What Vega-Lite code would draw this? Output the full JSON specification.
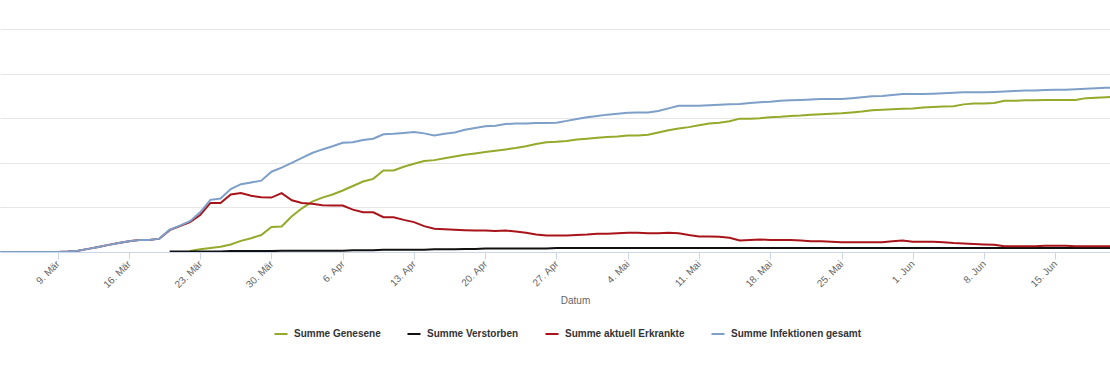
{
  "$schema": "https://vega.github.io/schema/vega-lite/v6.json",
  "width": 1110,
  "height": 223,
  "autosize": {"type": "none"},
  "padding": {"left": 0, "top": 29, "right": 0, "bottom": 118},
  "background": "white",
  "config": {
    "view": {"stroke": null},
    "font": "Liberation Sans",
    "locale": {
      "time": {
        "dateTime": "%A, der %e. %B %Y, %X",
        "date": "%d.%m.%Y",
        "time": "%H:%M:%S",
        "periods": ["AM", "PM"],
        "days": ["Sonntag", "Montag", "Dienstag", "Mittwoch", "Donnerstag", "Freitag", "Samstag"],
        "shortDays": ["So", "Mo", "Di", "Mi", "Do", "Fr", "Sa"],
        "months": ["Januar", "Februar", "März", "April", "Mai", "Juni", "Juli", "August", "September", "Oktober", "November", "Dezember"],
        "shortMonths": ["Jan", "Feb", "Mär", "Apr", "Mai", "Jun", "Jul", "Aug", "Sep", "Okt", "Nov", "Dez"]
      }
    }
  },
  "data": {
    "values": [
      {"d": "2020-03-02", "Summe aktuell Erkrankte": 0, "Summe Infektionen gesamt": 0},
      {"d": "2020-03-03", "Summe aktuell Erkrankte": 0, "Summe Infektionen gesamt": 0},
      {"d": "2020-03-04", "Summe aktuell Erkrankte": 0, "Summe Infektionen gesamt": 0},
      {"d": "2020-03-05", "Summe aktuell Erkrankte": 0, "Summe Infektionen gesamt": 0},
      {"d": "2020-03-06", "Summe aktuell Erkrankte": 0, "Summe Infektionen gesamt": 0},
      {"d": "2020-03-07", "Summe aktuell Erkrankte": 0, "Summe Infektionen gesamt": 0},
      {"d": "2020-03-08", "Summe aktuell Erkrankte": 0, "Summe Infektionen gesamt": 0},
      {"d": "2020-03-09", "Summe aktuell Erkrankte": 0, "Summe Infektionen gesamt": 0},
      {"d": "2020-03-10", "Summe aktuell Erkrankte": 1, "Summe Infektionen gesamt": 1},
      {"d": "2020-03-11", "Summe aktuell Erkrankte": 3, "Summe Infektionen gesamt": 3},
      {"d": "2020-03-12", "Summe aktuell Erkrankte": 7, "Summe Infektionen gesamt": 7},
      {"d": "2020-03-13", "Summe aktuell Erkrankte": 11, "Summe Infektionen gesamt": 11},
      {"d": "2020-03-14", "Summe aktuell Erkrankte": 16, "Summe Infektionen gesamt": 16},
      {"d": "2020-03-15", "Summe aktuell Erkrankte": 20, "Summe Infektionen gesamt": 20},
      {"d": "2020-03-16", "Summe aktuell Erkrankte": 24, "Summe Infektionen gesamt": 24},
      {"d": "2020-03-17", "Summe aktuell Erkrankte": 27, "Summe Infektionen gesamt": 27},
      {"d": "2020-03-18", "Summe aktuell Erkrankte": 27, "Summe Infektionen gesamt": 27},
      {"d": "2020-03-19", "Summe aktuell Erkrankte": 30, "Summe Infektionen gesamt": 30},
      {"d": "2020-03-20", "Summe Verstorben": 1, "Summe aktuell Erkrankte": 49, "Summe Infektionen gesamt": 50},
      {"d": "2020-03-21", "Summe Verstorben": 1, "Summe aktuell Erkrankte": 58, "Summe Infektionen gesamt": 59},
      {"d": "2020-03-22", "Summe Genesene": 2, "Summe Verstorben": 1, "Summe aktuell Erkrankte": 67, "Summe Infektionen gesamt": 69},
      {"d": "2020-03-23", "Summe Genesene": 6, "Summe Verstorben": 1, "Summe aktuell Erkrankte": 83, "Summe Infektionen gesamt": 89},
      {"d": "2020-03-24", "Summe Genesene": 9, "Summe Verstorben": 1, "Summe aktuell Erkrankte": 110, "Summe Infektionen gesamt": 117},
      {"d": "2020-03-25", "Summe Genesene": 12, "Summe Verstorben": 1, "Summe aktuell Erkrankte": 110, "Summe Infektionen gesamt": 120},
      {"d": "2020-03-26", "Summe Genesene": 17, "Summe Verstorben": 2, "Summe aktuell Erkrankte": 129, "Summe Infektionen gesamt": 141},
      {"d": "2020-03-27", "Summe Genesene": 25, "Summe Verstorben": 2, "Summe aktuell Erkrankte": 132, "Summe Infektionen gesamt": 152},
      {"d": "2020-03-28", "Summe Genesene": 31, "Summe Verstorben": 2, "Summe aktuell Erkrankte": 126, "Summe Infektionen gesamt": 156},
      {"d": "2020-03-29", "Summe Genesene": 38, "Summe Verstorben": 2, "Summe aktuell Erkrankte": 123, "Summe Infektionen gesamt": 160},
      {"d": "2020-03-30", "Summe Genesene": 56, "Summe Verstorben": 2, "Summe aktuell Erkrankte": 122, "Summe Infektionen gesamt": 180},
      {"d": "2020-03-31", "Summe Genesene": 57, "Summe Verstorben": 3, "Summe aktuell Erkrankte": 132, "Summe Infektionen gesamt": 189},
      {"d": "2020-04-01", "Summe Genesene": 80, "Summe Verstorben": 3, "Summe aktuell Erkrankte": 116, "Summe Infektionen gesamt": 200},
      {"d": "2020-04-02", "Summe Genesene": 98, "Summe Verstorben": 3, "Summe aktuell Erkrankte": 110, "Summe Infektionen gesamt": 211},
      {"d": "2020-04-03", "Summe Genesene": 113, "Summe Verstorben": 3, "Summe aktuell Erkrankte": 108, "Summe Infektionen gesamt": 222},
      {"d": "2020-04-04", "Summe Genesene": 122, "Summe Verstorben": 3, "Summe aktuell Erkrankte": 105, "Summe Infektionen gesamt": 230},
      {"d": "2020-04-05", "Summe Genesene": 129, "Summe Verstorben": 3, "Summe aktuell Erkrankte": 104, "Summe Infektionen gesamt": 237},
      {"d": "2020-04-06", "Summe Genesene": 138, "Summe Verstorben": 3, "Summe aktuell Erkrankte": 104, "Summe Infektionen gesamt": 245},
      {"d": "2020-04-07", "Summe Genesene": 148, "Summe Verstorben": 4, "Summe aktuell Erkrankte": 95, "Summe Infektionen gesamt": 246},
      {"d": "2020-04-08", "Summe Genesene": 158, "Summe Verstorben": 4, "Summe aktuell Erkrankte": 89, "Summe Infektionen gesamt": 251},
      {"d": "2020-04-09", "Summe Genesene": 164, "Summe Verstorben": 4, "Summe aktuell Erkrankte": 89, "Summe Infektionen gesamt": 254},
      {"d": "2020-04-10", "Summe Genesene": 183, "Summe Verstorben": 5, "Summe aktuell Erkrankte": 78, "Summe Infektionen gesamt": 264},
      {"d": "2020-04-11", "Summe Genesene": 183, "Summe Verstorben": 5, "Summe aktuell Erkrankte": 78, "Summe Infektionen gesamt": 265},
      {"d": "2020-04-12", "Summe Genesene": 191, "Summe Verstorben": 5, "Summe aktuell Erkrankte": 72, "Summe Infektionen gesamt": 267},
      {"d": "2020-04-13", "Summe Genesene": 198, "Summe Verstorben": 5, "Summe aktuell Erkrankte": 67, "Summe Infektionen gesamt": 269},
      {"d": "2020-04-14", "Summe Genesene": 204, "Summe Verstorben": 5, "Summe aktuell Erkrankte": 58, "Summe Infektionen gesamt": 266},
      {"d": "2020-04-15", "Summe Genesene": 206, "Summe Verstorben": 6, "Summe aktuell Erkrankte": 52, "Summe Infektionen gesamt": 261},
      {"d": "2020-04-16", "Summe Genesene": 210, "Summe Verstorben": 6, "Summe aktuell Erkrankte": 51, "Summe Infektionen gesamt": 265},
      {"d": "2020-04-17", "Summe Genesene": 214, "Summe Verstorben": 6, "Summe aktuell Erkrankte": 50, "Summe Infektionen gesamt": 268},
      {"d": "2020-04-18", "Summe Genesene": 218, "Summe Verstorben": 7, "Summe aktuell Erkrankte": 49, "Summe Infektionen gesamt": 274},
      {"d": "2020-04-19", "Summe Genesene": 221, "Summe Verstorben": 7, "Summe aktuell Erkrankte": 48, "Summe Infektionen gesamt": 278},
      {"d": "2020-04-20", "Summe Genesene": 224, "Summe Verstorben": 8, "Summe aktuell Erkrankte": 48, "Summe Infektionen gesamt": 282},
      {"d": "2020-04-21", "Summe Genesene": 227, "Summe Verstorben": 8, "Summe aktuell Erkrankte": 47, "Summe Infektionen gesamt": 283},
      {"d": "2020-04-22", "Summe Genesene": 230, "Summe Verstorben": 8, "Summe aktuell Erkrankte": 48, "Summe Infektionen gesamt": 287},
      {"d": "2020-04-23", "Summe Genesene": 233, "Summe Verstorben": 8, "Summe aktuell Erkrankte": 46, "Summe Infektionen gesamt": 288},
      {"d": "2020-04-24", "Summe Genesene": 237, "Summe Verstorben": 8, "Summe aktuell Erkrankte": 43, "Summe Infektionen gesamt": 288},
      {"d": "2020-04-25", "Summe Genesene": 242, "Summe Verstorben": 8, "Summe aktuell Erkrankte": 39, "Summe Infektionen gesamt": 289},
      {"d": "2020-04-26", "Summe Genesene": 246, "Summe Verstorben": 8, "Summe aktuell Erkrankte": 37, "Summe Infektionen gesamt": 289},
      {"d": "2020-04-27", "Summe Genesene": 247, "Summe Verstorben": 9, "Summe aktuell Erkrankte": 37, "Summe Infektionen gesamt": 290},
      {"d": "2020-04-28", "Summe Genesene": 249, "Summe Verstorben": 9, "Summe aktuell Erkrankte": 37, "Summe Infektionen gesamt": 294},
      {"d": "2020-04-29", "Summe Genesene": 252, "Summe Verstorben": 9, "Summe aktuell Erkrankte": 38, "Summe Infektionen gesamt": 298},
      {"d": "2020-04-30", "Summe Genesene": 254, "Summe Verstorben": 9, "Summe aktuell Erkrankte": 39, "Summe Infektionen gesamt": 302},
      {"d": "2020-05-01", "Summe Genesene": 256, "Summe Verstorben": 9, "Summe aktuell Erkrankte": 41, "Summe Infektionen gesamt": 305},
      {"d": "2020-05-02", "Summe Genesene": 258, "Summe Verstorben": 9, "Summe aktuell Erkrankte": 41, "Summe Infektionen gesamt": 308},
      {"d": "2020-05-03", "Summe Genesene": 259, "Summe Verstorben": 9, "Summe aktuell Erkrankte": 42, "Summe Infektionen gesamt": 310},
      {"d": "2020-05-04", "Summe Genesene": 261, "Summe Verstorben": 9, "Summe aktuell Erkrankte": 43, "Summe Infektionen gesamt": 312},
      {"d": "2020-05-05", "Summe Genesene": 261, "Summe Verstorben": 9, "Summe aktuell Erkrankte": 43, "Summe Infektionen gesamt": 313},
      {"d": "2020-05-06", "Summe Genesene": 263, "Summe Verstorben": 9, "Summe aktuell Erkrankte": 42, "Summe Infektionen gesamt": 313},
      {"d": "2020-05-07", "Summe Genesene": 268, "Summe Verstorben": 9, "Summe aktuell Erkrankte": 42, "Summe Infektionen gesamt": 316},
      {"d": "2020-05-08", "Summe Genesene": 273, "Summe Verstorben": 9, "Summe aktuell Erkrankte": 43, "Summe Infektionen gesamt": 322},
      {"d": "2020-05-09", "Summe Genesene": 277, "Summe Verstorben": 9, "Summe aktuell Erkrankte": 42, "Summe Infektionen gesamt": 328},
      {"d": "2020-05-10", "Summe Genesene": 280, "Summe Verstorben": 9, "Summe aktuell Erkrankte": 38, "Summe Infektionen gesamt": 328},
      {"d": "2020-05-11", "Summe Genesene": 284, "Summe Verstorben": 9, "Summe aktuell Erkrankte": 35, "Summe Infektionen gesamt": 328},
      {"d": "2020-05-12", "Summe Genesene": 288, "Summe Verstorben": 9, "Summe aktuell Erkrankte": 35, "Summe Infektionen gesamt": 329},
      {"d": "2020-05-13", "Summe Genesene": 290, "Summe Verstorben": 9, "Summe aktuell Erkrankte": 34, "Summe Infektionen gesamt": 330},
      {"d": "2020-05-14", "Summe Genesene": 293, "Summe Verstorben": 9, "Summe aktuell Erkrankte": 32, "Summe Infektionen gesamt": 331},
      {"d": "2020-05-15", "Summe Genesene": 299, "Summe Verstorben": 9, "Summe aktuell Erkrankte": 26, "Summe Infektionen gesamt": 332},
      {"d": "2020-05-16", "Summe Genesene": 299, "Summe Verstorben": 9, "Summe aktuell Erkrankte": 27, "Summe Infektionen gesamt": 334},
      {"d": "2020-05-17", "Summe Genesene": 300, "Summe Verstorben": 9, "Summe aktuell Erkrankte": 28, "Summe Infektionen gesamt": 336},
      {"d": "2020-05-18", "Summe Genesene": 302, "Summe Verstorben": 9, "Summe aktuell Erkrankte": 27, "Summe Infektionen gesamt": 337},
      {"d": "2020-05-19", "Summe Genesene": 303, "Summe Verstorben": 9, "Summe aktuell Erkrankte": 27, "Summe Infektionen gesamt": 339},
      {"d": "2020-05-20", "Summe Genesene": 305, "Summe Verstorben": 9, "Summe aktuell Erkrankte": 27, "Summe Infektionen gesamt": 340},
      {"d": "2020-05-21", "Summe Genesene": 306, "Summe Verstorben": 9, "Summe aktuell Erkrankte": 26, "Summe Infektionen gesamt": 341},
      {"d": "2020-05-22", "Summe Genesene": 308, "Summe Verstorben": 9, "Summe aktuell Erkrankte": 24, "Summe Infektionen gesamt": 342},
      {"d": "2020-05-23", "Summe Genesene": 309, "Summe Verstorben": 9, "Summe aktuell Erkrankte": 24, "Summe Infektionen gesamt": 343},
      {"d": "2020-05-24", "Summe Genesene": 310, "Summe Verstorben": 9, "Summe aktuell Erkrankte": 23, "Summe Infektionen gesamt": 343},
      {"d": "2020-05-25", "Summe Genesene": 311, "Summe Verstorben": 9, "Summe aktuell Erkrankte": 22, "Summe Infektionen gesamt": 343},
      {"d": "2020-05-26", "Summe Genesene": 313, "Summe Verstorben": 9, "Summe aktuell Erkrankte": 22, "Summe Infektionen gesamt": 345},
      {"d": "2020-05-27", "Summe Genesene": 315, "Summe Verstorben": 9, "Summe aktuell Erkrankte": 22, "Summe Infektionen gesamt": 347},
      {"d": "2020-05-28", "Summe Genesene": 318, "Summe Verstorben": 9, "Summe aktuell Erkrankte": 22, "Summe Infektionen gesamt": 349},
      {"d": "2020-05-29", "Summe Genesene": 319, "Summe Verstorben": 9, "Summe aktuell Erkrankte": 22, "Summe Infektionen gesamt": 350},
      {"d": "2020-05-30", "Summe Genesene": 320, "Summe Verstorben": 9, "Summe aktuell Erkrankte": 24, "Summe Infektionen gesamt": 352},
      {"d": "2020-05-31", "Summe Genesene": 321, "Summe Verstorben": 9, "Summe aktuell Erkrankte": 26, "Summe Infektionen gesamt": 354},
      {"d": "2020-06-01", "Summe Genesene": 322, "Summe Verstorben": 9, "Summe aktuell Erkrankte": 23, "Summe Infektionen gesamt": 354},
      {"d": "2020-06-02", "Summe Genesene": 324, "Summe Verstorben": 9, "Summe aktuell Erkrankte": 23, "Summe Infektionen gesamt": 354},
      {"d": "2020-06-03", "Summe Genesene": 325, "Summe Verstorben": 9, "Summe aktuell Erkrankte": 23, "Summe Infektionen gesamt": 355},
      {"d": "2020-06-04", "Summe Genesene": 326, "Summe Verstorben": 9, "Summe aktuell Erkrankte": 22, "Summe Infektionen gesamt": 356},
      {"d": "2020-06-05", "Summe Genesene": 327, "Summe Verstorben": 9, "Summe aktuell Erkrankte": 20, "Summe Infektionen gesamt": 357},
      {"d": "2020-06-06", "Summe Genesene": 331, "Summe Verstorben": 9, "Summe aktuell Erkrankte": 19, "Summe Infektionen gesamt": 358},
      {"d": "2020-06-07", "Summe Genesene": 333, "Summe Verstorben": 9, "Summe aktuell Erkrankte": 18, "Summe Infektionen gesamt": 358},
      {"d": "2020-06-08", "Summe Genesene": 333, "Summe Verstorben": 9, "Summe aktuell Erkrankte": 17, "Summe Infektionen gesamt": 358},
      {"d": "2020-06-09", "Summe Genesene": 334, "Summe Verstorben": 9, "Summe aktuell Erkrankte": 16, "Summe Infektionen gesamt": 359},
      {"d": "2020-06-10", "Summe Genesene": 339, "Summe Verstorben": 9, "Summe aktuell Erkrankte": 13, "Summe Infektionen gesamt": 360},
      {"d": "2020-06-11", "Summe Genesene": 339, "Summe Verstorben": 9, "Summe aktuell Erkrankte": 13, "Summe Infektionen gesamt": 361},
      {"d": "2020-06-12", "Summe Genesene": 340, "Summe Verstorben": 9, "Summe aktuell Erkrankte": 13, "Summe Infektionen gesamt": 362},
      {"d": "2020-06-13", "Summe Genesene": 340, "Summe Verstorben": 9, "Summe aktuell Erkrankte": 13, "Summe Infektionen gesamt": 362},
      {"d": "2020-06-14", "Summe Genesene": 341, "Summe Verstorben": 9, "Summe aktuell Erkrankte": 14, "Summe Infektionen gesamt": 363},
      {"d": "2020-06-15", "Summe Genesene": 341, "Summe Verstorben": 9, "Summe aktuell Erkrankte": 14, "Summe Infektionen gesamt": 364},
      {"d": "2020-06-16", "Summe Genesene": 341, "Summe Verstorben": 9, "Summe aktuell Erkrankte": 14, "Summe Infektionen gesamt": 364},
      {"d": "2020-06-17", "Summe Genesene": 341, "Summe Verstorben": 9, "Summe aktuell Erkrankte": 13, "Summe Infektionen gesamt": 365},
      {"d": "2020-06-18", "Summe Genesene": 345, "Summe Verstorben": 9, "Summe aktuell Erkrankte": 13, "Summe Infektionen gesamt": 366},
      {"d": "2020-06-19", "Summe Genesene": 346, "Summe Verstorben": 9, "Summe aktuell Erkrankte": 13, "Summe Infektionen gesamt": 367},
      {"d": "2020-06-20", "Summe Genesene": 347, "Summe Verstorben": 9, "Summe aktuell Erkrankte": 13, "Summe Infektionen gesamt": 368},
      {"d": "2020-06-21", "Summe Genesene": 348, "Summe Verstorben": 9, "Summe aktuell Erkrankte": 13, "Summe Infektionen gesamt": 369}
    ]
  },
  "transform": [
    {"fold": ["Summe Genesene", "Summe Verstorben", "Summe aktuell Erkrankte", "Summe Infektionen gesamt"], "as": ["Reihe", "Wert"]},
    {"filter": "isValid(datum.Wert)"}
  ],
  "encoding": {
    "x": {
      "field": "d",
      "type": "temporal",
      "scale": {
        "type": "utc",
        "domain": [
          {"year": 2020, "month": 3, "date": 3, "hours": 8, "utc": true},
          {"year": 2020, "month": 6, "date": 20, "hours": 9, "utc": true}
        ]
      },
      "axis": {
        "title": "Datum",
        "titleFontSize": 10,
        "titleFontWeight": "normal",
        "titleColor": "#666666",
        "titleX": 575,
        "titleY": 48,
        "titleAlign": "center",
        "titleBaseline": "middle",
        "values": [
          {"year": 2020, "month": 3, "date": 9, "utc": true},
          {"year": 2020, "month": 3, "date": 16, "utc": true},
          {"year": 2020, "month": 3, "date": 23, "utc": true},
          {"year": 2020, "month": 3, "date": 30, "utc": true},
          {"year": 2020, "month": 4, "date": 6, "utc": true},
          {"year": 2020, "month": 4, "date": 13, "utc": true},
          {"year": 2020, "month": 4, "date": 20, "utc": true},
          {"year": 2020, "month": 4, "date": 27, "utc": true},
          {"year": 2020, "month": 5, "date": 4, "utc": true},
          {"year": 2020, "month": 5, "date": 11, "utc": true},
          {"year": 2020, "month": 5, "date": 18, "utc": true},
          {"year": 2020, "month": 5, "date": 25, "utc": true},
          {"year": 2020, "month": 6, "date": 1, "utc": true},
          {"year": 2020, "month": 6, "date": 8, "utc": true},
          {"year": 2020, "month": 6, "date": 15, "utc": true}
        ],
        "labelExpr": "utcFormat(datum.value, '%-d. %b')",
        "labelAngle": -45,
        "labelAlign": "right",
        "labelBaseline": "middle",
        "labelFontSize": 10,
        "labelColor": "#666666",
        "labelPadding": 3,
        "labelOverlap": false,
        "labelFlush": false,
        "tickSize": 7,
        "tickColor": "#ccd6eb",
        "domainColor": "#ccd6eb",
        "grid": false
      }
    },
    "y": {
      "field": "Wert",
      "type": "quantitative",
      "scale": {"domain": [0, 500], "nice": false},
      "axis": {
        "title": null,
        "labels": false,
        "ticks": false,
        "domain": false,
        "grid": true,
        "gridColor": "#e6e6e6",
        "values": [100, 200, 300, 400, 500]
      }
    },
    "color": {
      "field": "Reihe",
      "type": "nominal",
      "scale": {
        "domain": ["Summe Genesene", "Summe Verstorben", "Summe aktuell Erkrankte", "Summe Infektionen gesamt"],
        "range": ["#95a92b", "#111111", "#a8141a", "#7d9fc8"]
      },
      "legend": {
        "title": null,
        "orient": "none",
        "direction": "horizontal",
        "legendX": 273,
        "legendY": 297,
        "symbolType": "stroke",
        "symbolStrokeWidth": 2,
        "symbolSize": 170,
        "labelFontSize": 10,
        "labelFontWeight": "bold",
        "labelColor": "#333333",
        "labelOffset": 5,
        "columnPadding": 22,
        "labelLimit": 300
      }
    }
  },
  "layer": [
    {"transform": [{"filter": "datum.Reihe === 'Summe Genesene'"}], "mark": {"type": "line", "strokeWidth": 2, "clip": true}},
    {"transform": [{"filter": "datum.Reihe === 'Summe Verstorben'"}], "mark": {"type": "line", "strokeWidth": 2, "clip": true}},
    {"transform": [{"filter": "datum.Reihe === 'Summe aktuell Erkrankte'"}], "mark": {"type": "line", "strokeWidth": 2, "clip": true}},
    {"transform": [{"filter": "datum.Reihe === 'Summe Infektionen gesamt'"}], "mark": {"type": "line", "strokeWidth": 2, "clip": true}}
  ]
}
